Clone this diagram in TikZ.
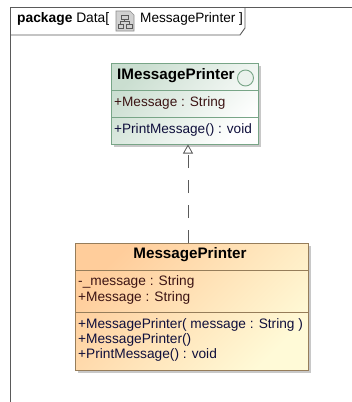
\documentclass[tikz,border=0pt]{standalone}
\usepackage{fontspec}
\setmainfont{Liberation Sans}
\usetikzlibrary{arrows.meta,shadows,calc}
\definecolor{framec}{RGB}{90,90,90}
\definecolor{greenl}{RGB}{120,165,135}
\definecolor{greend}{RGB}{202,222,208}
\definecolor{orl}{RGB}{150,125,90}
\definecolor{ora}{RGB}{255,205,155}
\definecolor{orb}{RGB}{255,250,215}
\definecolor{attr}{RGB}{60,20,20}
\definecolor{oper}{RGB}{15,15,60}
\tikzset{
  frameline/.style={draw=framec,line width=0.9pt},
  classbox/.style={minimum width=#1,inner sep=0pt,anchor=north west,
    drop shadow={shadow xshift=3pt,shadow yshift=-3pt,opacity=.3,fill=black!70}},
  ibox/.style={classbox=146.5pt,draw=greenl,line width=0.9pt,left color=greend,right color=white,shading angle=45,minimum height=81pt},
  mbox/.style={classbox=233pt,draw=orl,line width=0.9pt,left color=ora,right color=orb,shading angle=45,minimum height=127pt},
  label/.style={font=\fontsize{13.6}{15}\selectfont,inner sep=0pt,anchor=west},
  title/.style={font=\fontsize{15.2}{15}\selectfont\bfseries,inner sep=0pt},
  memberlist/.style={font=\fontsize{13.7}{15.4}\selectfont,inner sep=0pt,anchor=north west,align=left},
  sep/.style={line width=0.8pt},
  real/.style={draw=framec,-{Triangle[open,length=9pt,width=10pt]},line width=.8pt,dash pattern=on 13pt off 12pt}
}
\begin{document}
\begin{tikzpicture}[x=1pt,y=-1pt]
\useasboundingbox (0,0) rectangle (352,402);
\fill[white] (0,0) rectangle (352,402);
% frame
\draw[frameline] (10.5,402) -- (10.5,7) -- (352,7);
\draw[frameline] (10.5,35) -- (240,35) -- (245,28) -- (245,7);
\node[font=\fontsize{13.8}{15}\selectfont,inner sep=0pt,anchor=west] (pk) at (17,18.5) {\textbf{package} Data[};
\fill[black!18] (116,11) -- (130,11) -- (134,15) -- (134,31) -- (116,31) -- cycle;
\draw[black!45,line width=.6pt] (116,11) -- (130,11) -- (134,15) -- (134,31) -- (116,31) -- cycle;
\draw[black!65,line width=.6pt] (121,15) rectangle (128,19) (118,24) rectangle (123,28) (126,24) rectangle (132,28) (124.5,19) -- (124.5,21.5) (120.5,24) -- (120.5,21.5) -- (129,21.5) -- (129,24);
\node[font=\fontsize{13.6}{15}\selectfont,inner sep=0pt,anchor=west] (pn) at (140,18.5) {MessagePrinter ]};
% interface
\node[ibox] (ip) at (111,63) {};
\draw[greenl,sep] (111,90) -- (257.5,90) (111,117) -- (257.5,117);
\node[title,anchor=west] (ipt) at (117,75.5) {IMessagePrinter};
\node[circle,draw=greenl,line width=.9pt,fill=white!85!greenl,minimum size=16pt,inner sep=0pt] (ball) at (245.5,78) {};
\node[label,text=attr] (ipa) at (114,102.5) {+Message : String};
\node[label,text=oper] (ipo) at (114,129.5) {+PrintMessage() : void};
% class
\node[mbox] (mp) at (75,243) {};
\draw[orl,sep] (75,270) -- (308,270) (75,312.5) -- (308,312.5);
\node[title,anchor=center] (mpt) at (190,254.5) {MessagePrinter};
\node[memberlist,text=attr] (mpa) at (78,275.5) {-\_message : String\\+Message : String};
\node[memberlist,text=oper] (mpo) at (78,318) {+MessagePrinter( message : String )\\+MessagePrinter()\\+PrintMessage() : void};
% realization
\coordinate (tip) at (188,144.5);
\draw[real] (mp.north -| tip) -- (tip);
\end{tikzpicture}
\end{document}
